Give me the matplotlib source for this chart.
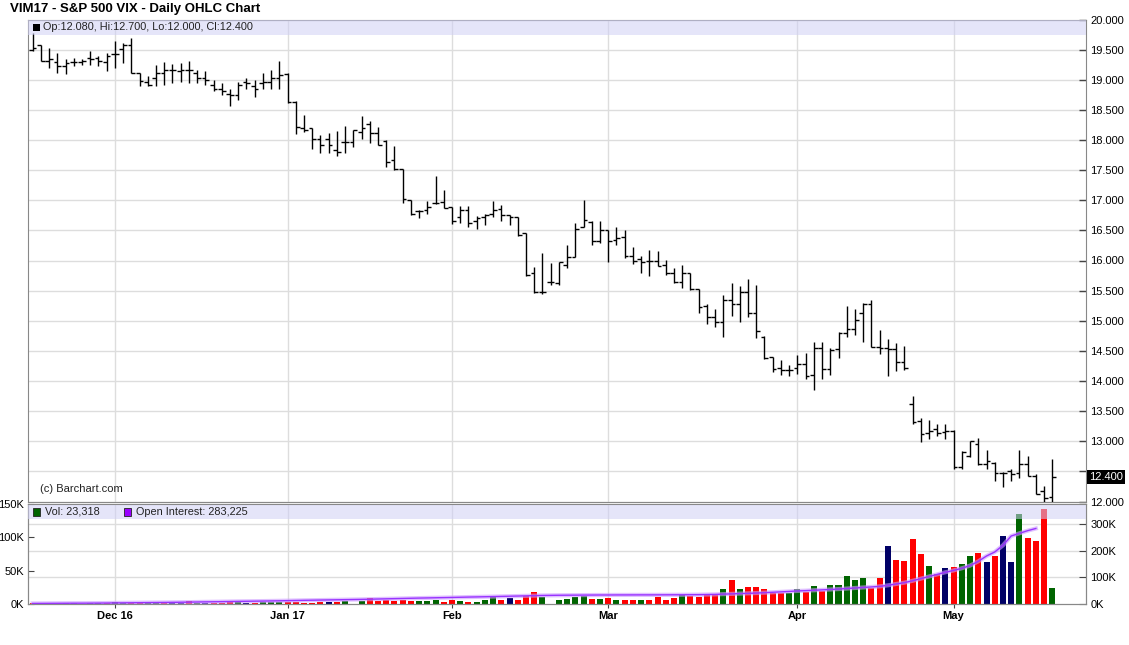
import matplotlib.pyplot as plt
from matplotlib.patches import Rectangle
import numpy as np
import pandas as pd

plt.rcParams['font.family'] = ['Liberation Sans', 'DejaVu Sans']

# ----------------------------- data ----------------------------------------------------
# trading days 16 Nov 2016 -> 17 May 2017 (VIM17 expiry)
holidays = ['2016-11-24', '2016-12-26', '2017-01-02', '2017-01-16', '2017-02-20', '2017-04-14']
month_labels = ['Dec 16', 'Jan 17', 'Feb', 'Mar', 'Apr', 'May']

opens = [19.50, 19.57, 19.31, 19.29, 19.22, 19.29, 19.29, 19.36, 19.36, 19.29,
         19.42, 19.51, 19.57, 19.12, 18.97, 19.03, 19.12, 19.16, 19.14, 19.17,
         19.11, 19.03, 18.92, 18.84, 18.77, 18.74, 18.96, 18.89, 18.94, 18.97,
         19.03, 19.09, 18.63, 18.20, 18.20, 18.02, 18.02, 17.84, 17.97, 17.97,
         18.14, 18.27, 18.12, 17.99, 17.67, 17.52, 17.00, 16.82, 16.83, 16.95,
         16.97, 16.88, 16.72, 16.83, 16.65, 16.72, 16.78, 16.85, 16.76, 16.72,
         16.45, 15.80, 15.48, 15.65, 15.62, 15.93, 16.06, 16.55, 16.64, 16.32,
         16.50, 16.34, 16.39, 16.07, 16.02, 15.99, 16.00, 15.93, 15.79, 15.65,
         15.80, 15.52, 15.24, 15.07, 14.98, 15.35, 15.27, 15.47, 15.13, 14.73,
         14.40, 14.22, 14.18, 14.22, 14.28, 14.10, 14.54, 14.20, 14.53, 14.80,
         14.86, 15.13, 15.28, 14.57, 14.54, 14.53, 14.32, 13.61, 13.33, 13.13,
         13.20, 13.15, 13.17, 12.57, 12.76, 12.96, 12.63, 12.64, 12.47, 12.50,
         12.47, 12.63, 12.43, 12.18, 12.08]
highs = [19.78, 19.57, 19.53, 19.45, 19.35, 19.36, 19.35, 19.47, 19.40, 19.45,
         19.64, 19.61, 19.70, 19.12, 19.07, 19.25, 19.29, 19.26, 19.28, 19.31,
         19.17, 19.14, 19.00, 18.95, 18.84, 18.97, 19.03, 19.00, 19.11, 19.17,
         19.31, 19.11, 18.64, 18.42, 18.20, 18.09, 18.11, 18.15, 18.23, 18.17,
         18.40, 18.31, 18.21, 18.00, 17.90, 17.52, 17.00, 16.84, 16.98, 17.40,
         17.17, 16.89, 16.90, 16.90, 16.74, 16.78, 16.98, 16.92, 16.76, 16.72,
         16.45, 15.89, 16.13, 15.96, 15.98, 16.26, 16.62, 17.01, 16.65, 16.66,
         16.51, 16.56, 16.51, 16.22, 16.07, 16.17, 16.16, 16.01, 15.87, 15.93,
         15.80, 15.52, 15.28, 15.19, 15.43, 15.62, 15.58, 15.69, 15.59, 14.74,
         14.40, 14.35, 14.26, 14.43, 14.46, 14.65, 14.65, 14.54, 14.82, 15.24,
         15.20, 15.29, 15.34, 14.84, 14.69, 14.63, 14.58, 13.75, 13.39, 13.36,
         13.29, 13.29, 13.18, 12.84, 13.01, 13.05, 12.85, 12.65, 12.49, 12.54,
         12.85, 12.75, 12.45, 12.25, 12.70]
lows = [19.47, 19.31, 19.20, 19.11, 19.10, 19.22, 19.24, 19.25, 19.22, 19.14,
        19.20, 19.28, 19.12, 18.90, 18.89, 18.90, 18.92, 18.95, 18.97, 18.95,
        18.95, 18.92, 18.81, 18.75, 18.56, 18.67, 18.84, 18.72, 18.84, 18.84,
        18.84, 18.62, 18.10, 18.14, 17.85, 17.78, 17.79, 17.74, 17.78, 17.88,
        18.01, 17.95, 17.92, 17.56, 17.51, 16.95, 16.75, 16.70, 16.78, 16.94,
        16.87, 16.61, 16.62, 16.56, 16.52, 16.59, 16.73, 16.65, 16.59, 16.41,
        15.74, 15.46, 15.44, 15.59, 15.59, 15.87, 16.06, 16.55, 16.26, 16.29,
        15.98, 16.26, 16.04, 15.95, 15.79, 15.74, 15.91, 15.76, 15.62, 15.54,
        15.51, 15.13, 14.94, 14.89, 14.73, 15.08, 14.98, 15.07, 14.71, 14.37,
        14.15, 14.10, 14.08, 14.12, 14.04, 13.85, 14.04, 14.10, 14.39, 14.73,
        14.76, 14.65, 14.56, 14.45, 14.08, 14.17, 14.19, 13.29, 12.99, 13.04,
        13.09, 13.04, 12.54, 12.54, 12.74, 12.60, 12.54, 12.34, 12.24, 12.34,
        12.39, 12.43, 12.12, 12.00, 12.00]
closes = [19.53, 19.31, 19.35, 19.22, 19.28, 19.29, 19.31, 19.35, 19.31, 19.39,
          19.43, 19.57, 19.12, 18.98, 18.92, 19.12, 19.17, 19.16, 19.17, 19.16,
          19.03, 19.00, 18.84, 18.81, 18.74, 18.92, 18.95, 18.84, 18.97, 19.03,
          19.08, 18.63, 18.22, 18.17, 18.01, 17.92, 17.91, 17.80, 17.97, 18.17,
          18.20, 18.11, 17.92, 17.64, 17.52, 17.02, 16.77, 16.82, 16.89, 16.96,
          16.87, 16.65, 16.83, 16.62, 16.71, 16.76, 16.84, 16.76, 16.72, 16.42,
          15.76, 15.48, 15.47, 15.65, 15.97, 16.06, 16.52, 16.67, 16.33, 16.50,
          16.33, 16.38, 16.07, 15.99, 15.98, 15.99, 15.91, 15.79, 15.65, 15.80,
          15.52, 15.23, 15.07, 14.98, 15.35, 15.27, 15.47, 15.13, 14.83, 14.38,
          14.20, 14.18, 14.18, 14.28, 14.09, 14.54, 14.20, 14.52, 14.80, 14.86,
          15.02, 15.28, 14.57, 14.54, 14.53, 14.32, 14.22, 13.32, 13.12, 13.17,
          13.14, 13.17, 12.57, 12.82, 13.00, 12.62, 12.67, 12.48, 12.48, 12.46,
          12.63, 12.43, 12.12, 12.05, 12.40]

# volume in thousands, colour code per bar (g up, r down, n flat)
volume = [1.5, 1.5, 1.5, 1.5, 1.5, 1.5, 0, 1.5, 1.5, 1.5,
          3, 1.5, 1.5, 1.5, 1.5, 1.5, 1.5, 1.5, 1.5, 4.5,
          1.5, 1.5, 1.5, 1.5, 4.5, 3, 1.5, 1.5, 3, 3,
          3, 3, 3, 1.5, 1.5, 3, 3, 3, 4.5, 0,
          4.5, 9, 4.5, 6, 4.5, 6.5, 4.5, 4.5, 4.5, 6,
          3, 6, 4.5, 3, 3, 6, 10.5, 6, 9, 6,
          12, 18, 10.5, 0, 6, 7.5, 10.5, 12, 7.5, 7.5,
          9.5, 6.5, 6.5, 6.5, 6.5, 6.5, 11, 6.5, 9.5, 14,
          12.5, 10, 13, 13, 23, 36.5, 23, 26, 26, 23,
          17, 17, 17, 23, 18.5, 27, 20, 28.5, 28.5, 42,
          36, 39, 24.5, 39, 87, 66, 64.5, 97.5, 75, 57,
          45, 54, 55.5, 60, 72, 76.5, 63, 72, 102, 63,
          135, 99.5, 95, 143, 23.318]
vol_codes = ('rrgrnggggr' 'ggrrggrnnr' 'gnrrrgnrgg' 'grrrrrnrgg' 'grrrrrrggg'
             'rrgrgggrnr' 'rrggggggrg' 'rgrrgrrrrg' 'rrrrgrgrrr' 'rrggrgrggg'
             'ggrrnrrrrg' 'rnrggrnrnn' 'grrrg')

# open interest in thousands (one day behind, ends at bar 122)
open_int = [2.0, 2.2, 2.4, 2.6, 2.8, 3.0, 3.0, 3.2, 3.4, 3.6,
            4.0, 4.3, 4.6, 4.9, 5.2, 5.5, 5.8, 6.2, 6.6, 7.0,
            7.5, 8.0, 8.4, 8.8, 9.3, 9.8, 10.2, 10.6, 11.0, 11.5,
            12.0, 12.6, 13.2, 13.8, 14.3, 14.8, 15.3, 15.8, 16.3, 16.8,
            17.3, 18.0, 18.7, 19.4, 20.1, 20.8, 21.5, 22.2, 22.8, 23.4,
            24.0, 24.6, 25.3, 26.0, 26.6, 27.2, 27.8, 28.5, 29.2, 29.9,
            30.6, 31.3, 32.0, 32.4, 32.8, 33.0, 33.2, 33.4, 33.6, 33.8,
            33.8, 34.0, 34.0, 34.1, 34.2, 34.2, 34.3, 34.4, 34.5, 34.6,
            34.8, 35.0, 35.5, 36.0, 37.0, 38.0, 39.0, 40.0, 41.0, 42.5,
            44.0, 45.5, 47.0, 49.0, 50.0, 51.5, 53.0, 54.5, 56.0, 58.0,
            60.0, 62.0, 64.0, 66.0, 70.0, 75.0, 80.0, 87.0, 95.0, 103.0,
            111.0, 119.0, 126.0, 134.0, 144.0, 160.0, 180.0, 195.0, 220.0, 255.0,
            265.0, 275.0, 283.225]

# --------------------------------------------------------------------------------------
dates = pd.bdate_range('2016-11-16', '2017-05-17', freq='C', holidays=holidays)
x = np.arange(len(dates))
month_idx = [i for i in range(1, len(dates)) if dates[i].month != dates[i - 1].month]

W, H = 1129, 645
fig = plt.figure(figsize=(W / 100, H / 100), dpi=100)


def fx(px):
    return px / W


def fy(py):
    return 1 - py / H


grid_c = '#dddddd'
spine_c = '#888888'
xlim = (-0.57, 128.1)

# ---- price panel ----
ax = fig.add_axes([fx(28), fy(501.5), fx(1086) - fx(28), fy(19.5) - fy(501.5)])
ax.vlines(x, lows, highs, color='black', lw=1.0, zorder=3)
ax.hlines(opens, x - 0.45, x, color='black', lw=1.0, zorder=3)
ax.hlines(closes, x, x + 0.45, color='black', lw=1.0, zorder=3)
ax.set_xlim(*xlim)
ax.set_ylim(12, 20)
yt = np.arange(12, 20.01, 0.5)
ax.set_yticks(yt)
# 12.500 sits under the last-price box
ax.set_yticklabels(['' if abs(v - 12.5) < 1e-6 else f'{v:.3f}' for v in yt])
ax.set_xticks(month_idx)
ax.tick_params(axis='x', length=0, labelbottom=False)
ax.tick_params(axis='y', left=False, labelleft=False, right=True, labelright=True,
               direction='in', length=5, width=1, color='#444444', labelsize=8, pad=3)
ax.grid(True, color=grid_c, lw=1, zorder=0)
ax.set_axisbelow(True)
for s in ax.spines.values():
    s.set_color(spine_c)
ax.add_patch(Rectangle((0, 0.968), 1, 0.032, transform=ax.transAxes,
                       facecolor='#d0d0f5', alpha=0.55, lw=0, zorder=5))
ax.text(12 / 1058, 13 / 482, '(c) Barchart.com', transform=ax.transAxes,
        fontsize=8, color='#222222', va='center')

# ---- volume / open interest panel ----
colors = {'g': '#006400', 'r': '#ff0000', 'n': '#000066'}
vax = fig.add_axes([fx(28), fy(604), fx(1086) - fx(28), fy(504) - fy(604)])
vax.bar(x, volume, width=0.73, color=[colors[c] for c in vol_codes], zorder=2)
vax.set_xlim(*xlim)
vax.set_ylim(0, 150)
vax.set_yticks([0, 50, 100, 150])
vax.set_yticklabels(['0K', '50K', '100K', '150K'])
vax.hlines([40, 80, 120], xlim[0], xlim[1], color=grid_c, lw=1, zorder=0)
for m in month_idx:
    vax.axvline(m, color=grid_c, lw=1, zorder=0)
vax.set_xticks(month_idx)
vax.set_xticklabels(month_labels, fontweight='bold', fontsize=8)
vax.tick_params(axis='x', direction='out', length=3, color='#444444', pad=2)
vax.tick_params(axis='y', direction='in', length=4, color='#444444', labelsize=8, pad=3)
for s in vax.spines.values():
    s.set_color(spine_c)

oax = vax.twinx()
oax.plot(x[:len(open_int)], open_int, color='#cc99ff', lw=3, alpha=0.6)
oax.plot(x[:len(open_int)], open_int, color='#9933ff', lw=1)
oax.set_ylim(0, 375)
oax.set_yticks([0, 100, 200, 300])
oax.set_yticklabels(['0K', '100K', '200K', '300K'])
oax.tick_params(axis='y', direction='in', length=5, color='#444444', labelsize=8, pad=3)
for s in oax.spines.values():
    s.set_color(spine_c)
oax.add_patch(Rectangle((0, 0.85), 1, 0.14, transform=oax.transAxes,
                        facecolor='#d0d0f5', alpha=0.55, lw=0, zorder=5))

# ---- texts ----
fig.text(fx(10), fy(9), 'VIM17 - S&P 500 VIX - Daily OHLC Chart', fontsize=9.5,
         fontweight='bold', va='center')
fig.patches.append(Rectangle((fx(33), fy(31)), fx(7), fy(24) - fy(31), transform=fig.transFigure,
                             facecolor='black', edgecolor='none'))
fig.text(fx(43), fy(27.5), 'Op:12.080, Hi:12.700, Lo:12.000, Cl:12.400', fontsize=7.8,
         va='center', color='#222222')
fig.patches.append(Rectangle((fx(33), fy(516)), fx(7), fy(508) - fy(516), transform=fig.transFigure,
                             facecolor='#006400', edgecolor='#222222', lw=0.6))
fig.text(fx(45), fy(512), 'Vol: 23,318', fontsize=7.8, va='center', color='#222222')
fig.patches.append(Rectangle((fx(124), fy(516)), fx(7), fy(508) - fy(516), transform=fig.transFigure,
                             facecolor='#9900ff', edgecolor='#222222', lw=0.6))
fig.text(fx(136), fy(512), 'Open Interest: 283,225', fontsize=7.8, va='center', color='#222222')
fig.text(fx(1089), fy(477), '12.400', fontsize=8, va='center', color='white',
         bbox=dict(boxstyle='square,pad=0.15', facecolor='black', edgecolor='none'))

fig.savefig('out.png', dpi=100)
